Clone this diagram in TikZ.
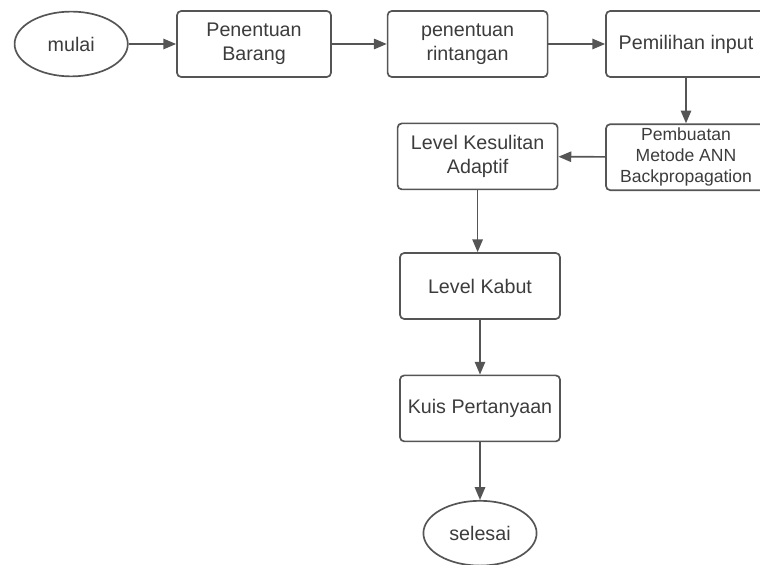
\documentclass[tikz,border=0pt]{standalone}
\usepackage{fontspec}
\setmainfont{Liberation Sans}
\usepackage{xcolor}
\usetikzlibrary{arrows.meta, positioning, shapes.geometric}
\definecolor{flowLine}{RGB}{85,85,85}
\definecolor{flowText}{RGB}{60,60,60}

\begin{document}
\begin{tikzpicture}[
    font=\fontsize{14}{17}\selectfont,
    stepbox/.style={draw=flowLine, line width=1.2pt, rounded corners=3pt,
                    minimum width=4cm, minimum height=1.65cm,
                    align=center, text=flowText, inner sep=2pt},
    terminal/.style={ellipse, draw=flowLine, line width=1.2pt,
                     minimum width=2.83cm, minimum height=1.62cm,
                     text=flowText, inner sep=1pt},
    flow/.style={-{Triangle[length=3.2mm, width=2.6mm]}, line width=1.2pt,
                 draw=flowLine}
]
\useasboundingbox (0,0) rectangle (19,-14.125);

% top row
\node[terminal] (mulai) at (1.78,-1.1) {mulai};
\node[stepbox, minimum width=3.85cm] (barang) at (6.35,-1.1) {Penentuan\\Barang};
\node[stepbox] (rintangan) at (11.69,-1.1) {penentuan\\rintangan};
\node[stepbox] (input) at (17.15,-1.1) {Pemilihan input};

% second row
\node[stepbox, font=\fontsize{12.5}{15}\selectfont] (ann) at (17.15,-3.93)
  {Pembuatan\\Metode ANN\\Backpropagation};
\node[stepbox] (adaptif) at (11.94,-3.91) {Level Kesulitan\\Adaptif};

% column down to the end
\node[stepbox] (kabut) at (12.0,-7.15) {Level Kabut};
\node[stepbox] (kuis) at (12.0,-10.21) {Kuis Pertanyaan};
\node[terminal] (selesai) at (12.0,-13.33) {selesai};

\draw[flow] (mulai) -- (barang);
\draw[flow] (barang) -- (rintangan);
\draw[flow] (rintangan) -- (input);
\draw[flow] (input) -- (ann);
\draw[flow] (ann) -- (adaptif);
\draw[flow] (adaptif.south) -- (adaptif.south |- kabut.north);
\draw[flow] (kabut) -- (kuis);
\draw[flow] (kuis) -- (selesai);

\end{tikzpicture}
\end{document}
